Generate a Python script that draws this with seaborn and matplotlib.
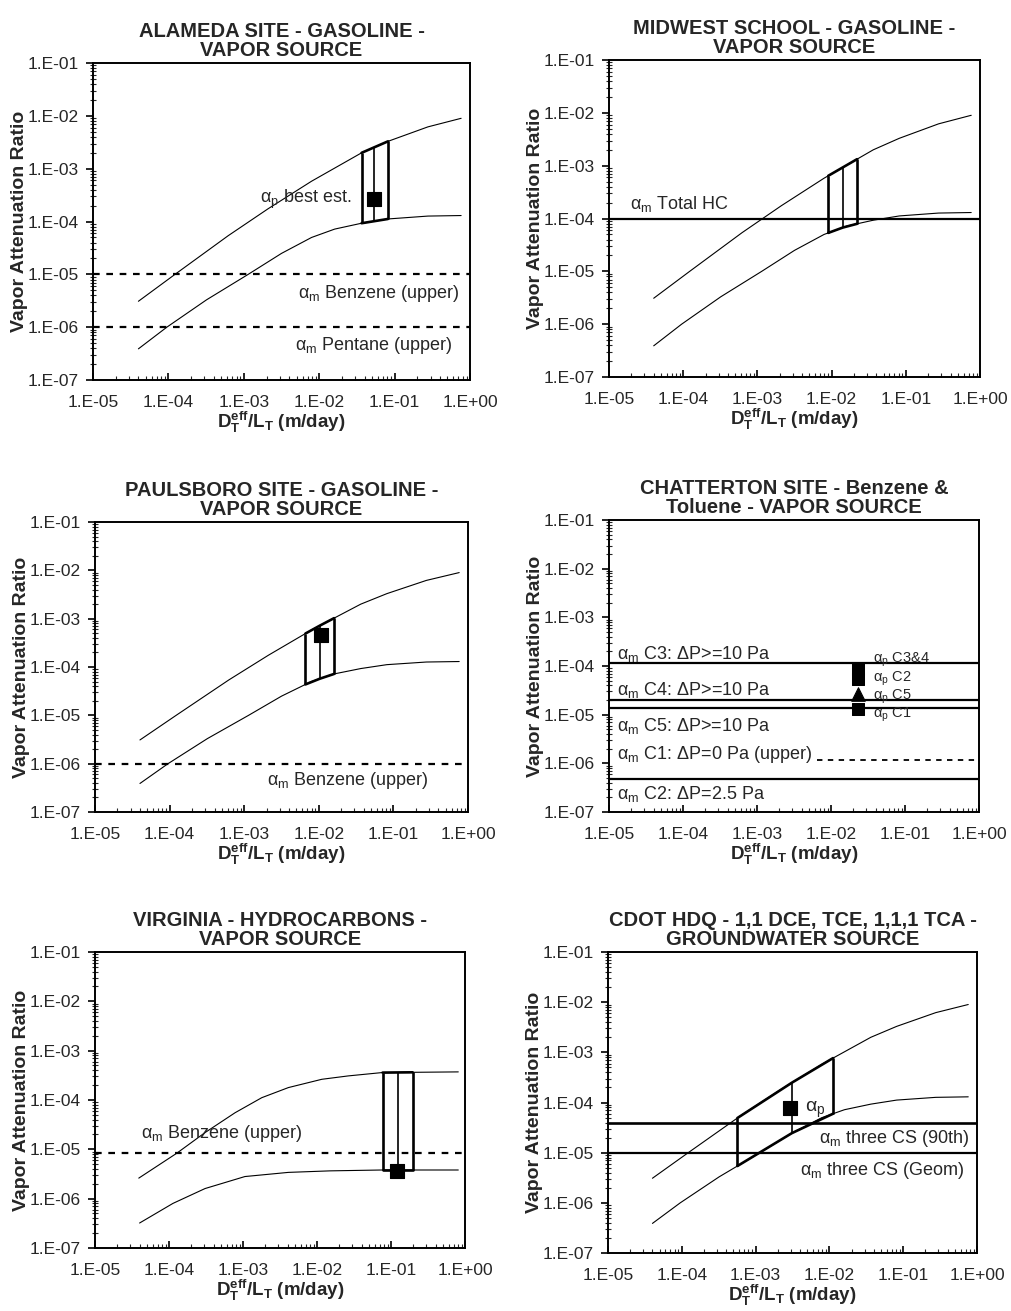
import numpy as np
import matplotlib
matplotlib.use('Agg')
import matplotlib.pyplot as plt
from matplotlib.ticker import NullFormatter, LogLocator
import seaborn as sns

# model curves (shared by most panels)
upper_x = [4e-5, 1.22e-4, 6.2e-4, 2.1e-3, 7.9e-3, 3.64e-2, 8.15e-2, 2.76e-1, 7.6e-1]
upper_y = [3.1e-6, 1.0e-5, 5.4e-5, 1.75e-4, 5.8e-4, 2.0e-3, 3.3e-3, 6.2e-3, 9.0e-3]
lower_x = [4e-5, 9.5e-5, 3.2e-4, 1.14e-3, 3.16e-3, 7.9e-3, 1.6e-2, 3.64e-2, 8.15e-2, 2.76e-1, 7.6e-1]
lower_y = [3.9e-7, 1.0e-6, 3.3e-6, 1.0e-5, 2.5e-5, 5.0e-5, 7.2e-5, 9.3e-5, 1.12e-4, 1.27e-4, 1.3e-4]

# Virginia panel has its own curves
virginia_upper_x = [3.9e-5, 1.27e-4, 3.07e-4, 7.8e-4, 1.79e-3, 4.1e-3, 1.16e-2, 2.65e-2, 7.5e-2, 8.1e-1]
virginia_upper_y = [2.6e-6, 8.3e-6, 2.18e-5, 5.5e-5, 1.11e-4, 1.78e-4, 2.62e-4, 3.07e-4, 3.58e-4, 3.7e-4]
virginia_lower_x = [4e-5, 1.13e-4, 3.07e-4, 1.06e-3, 4.1e-3, 1.5e-2, 7.5e-2, 8.1e-1]
virginia_lower_y = [3.2e-7, 8.0e-7, 1.6e-6, 2.8e-6, 3.4e-6, 3.65e-6, 3.8e-6, 3.8e-6]

# predicted ranges: x positions of the box edges (and inner line)
alameda_box_x = [0.0364, 0.053, 0.0815]
alameda_point = (0.053, 2.7e-4)
midwest_box_x = [9e-3, 0.0141, 0.022]
paulsboro_box_x = [6.6e-3, 1.03e-2, 1.6e-2]
paulsboro_point = (1.07e-2, 4.5e-4)
virginia_box_x = [0.0768, 0.125, 0.196]
virginia_point = (0.12, 3.6e-6)
cdot_box_x = [5.66e-4, 3.1e-3, 0.0112]
cdot_point = (2.9e-3, 7.7e-5)

# measured attenuation lines
alameda_lines = [1e-5, 1e-6]
midwest_line = 1e-4
paulsboro_line = 1e-6
virginia_line = 8.3e-6
cdot_lines = [4.0e-5, 1e-5]

# Chatterton measured / predicted values
chat_lines = {'C3': 1.13e-4, 'C4': 2.05e-5, 'C5': 1.4e-5, 'C1': 1.16e-6, 'C2': 4.7e-7}
chat_x = 0.0233
chat_sq_y = [8.9e-5, 5.5e-5, 1.29e-5]
chat_tri_y = [2.7e-5]
chat_labels = ['C3&4', 'C2', 'C5', 'C1']
chat_label_y = [1.35e-4, 5.4e-5, 2.35e-5, 9.8e-6]

x_ticks = [1e-5, 1e-4, 1e-3, 1e-2, 1e-1, 1e0]
x_tick_labels = ['1.E-05', '1.E-04', '1.E-03', '1.E-02', '1.E-01', '1.E+00']
y_ticks = [1e-7, 1e-6, 1e-5, 1e-4, 1e-3, 1e-2, 1e-1]
y_tick_labels = ['1.E-07', '1.E-06', '1.E-05', '1.E-04', '1.E-03', '1.E-02', '1.E-01']

sns.set_style('white')
plt.rcParams['font.family'] = ['Liberation Sans', 'DejaVu Sans']
plt.rcParams['mathtext.fontset'] = 'custom'
plt.rcParams['mathtext.rm'] = 'Liberation Sans'
plt.rcParams['mathtext.it'] = 'Liberation Sans:italic'
plt.rcParams['mathtext.bf'] = 'Liberation Sans:bold'

fig = plt.figure(figsize=(10.11, 13.11), dpi=100)

positions = [
    [0.092, 0.7101, 0.373, 0.2418],
    [0.6024, 0.7124, 0.367, 0.2418],
    [0.094, 0.3806, 0.369, 0.2212],
    [0.6024, 0.3806, 0.366, 0.2227],
    [0.094, 0.0481, 0.366, 0.2258],
    [0.6014, 0.0442, 0.365, 0.2296],
]
titles = [
    'ALAMEDA SITE - GASOLINE -\nVAPOR SOURCE',
    'MIDWEST SCHOOL - GASOLINE -\nVAPOR SOURCE',
    'PAULSBORO SITE - GASOLINE -\nVAPOR SOURCE',
    'CHATTERTON SITE - Benzene &\nToluene - VAPOR SOURCE',
    'VIRGINIA - HYDROCARBONS -\nVAPOR SOURCE',
    'CDOT HDQ - 1,1 DCE, TCE, 1,1,1 TCA -\nGROUNDWATER SOURCE',
]

AM = r'α$_\mathrm{m}$'
AP = r'α$_\mathrm{p}$'
TXT = 13


def setup(ax, title):
    ax.set_xscale('log')
    ax.set_yscale('log')
    ax.set_xlim(1e-5, 1e0)
    ax.set_ylim(1e-7, 1e-1)
    ax.set_xticks(x_ticks, labels=x_tick_labels)
    ax.set_yticks(y_ticks, labels=y_tick_labels)
    ax.xaxis.set_minor_locator(LogLocator(base=10, subs=np.arange(2, 10), numticks=20))
    ax.yaxis.set_minor_locator(LogLocator(base=10, subs=np.arange(2, 10), numticks=20))
    ax.xaxis.set_minor_formatter(NullFormatter())
    ax.yaxis.set_minor_formatter(NullFormatter())
    ax.tick_params(axis='both', which='major', labelsize=12.5, color='black', width=1.2)
    ax.tick_params(axis='x', which='both', direction='in', bottom=True)
    ax.tick_params(axis='x', which='major', length=5, pad=11)
    ax.tick_params(axis='x', which='minor', length=3, width=0.8)
    ax.tick_params(axis='y', which='major', direction='out', length=5, left=True, pad=5)
    ax.tick_params(axis='y', which='minor', direction='inout', length=4, width=0.8, left=True)
    for s in ax.spines.values():
        s.set_color('black')
        s.set_linewidth(1.4)
    ax.set_title(title, fontsize=14.5, fontweight='bold', pad=5, linespacing=1.0)
    ax.set_ylabel('Vapor Attenuation Ratio', fontsize=14, fontweight='bold', labelpad=0)
    ax.set_xlabel(r'D$_\mathbf{T}^\mathbf{eff}$/L$_\mathbf{T}$ (m/day)', fontsize=13.5,
                  fontweight='bold', labelpad=0)


def curves(ax, ux, uy, lx, ly):
    sns.lineplot(x=ux, y=uy, ax=ax, color='black', linewidth=0.8, sort=False)
    sns.lineplot(x=lx, y=ly, ax=ax, color='black', linewidth=0.8, sort=False)


def on_curve(xs, cx, cy):
    # position of the box edge on a model curve (log-log)
    return 10 ** np.interp(np.log10(xs), np.log10(cx), np.log10(cy))


def box(ax, bx, ux, uy, lx, ly):
    top = on_curve(bx, ux, uy)
    bot = on_curve(bx, lx, ly)
    ax.plot(bx, top, color='black', linewidth=1.9)
    ax.plot(bx, bot, color='black', linewidth=1.9)
    ax.vlines([bx[0], bx[-1]], [bot[0], bot[-1]], [top[0], top[-1]], color='black', linewidth=1.9)
    ax.vlines(bx[1:-1], bot[1:-1], top[1:-1], color='black', linewidth=1.2)


def square(ax, pt, s=100, marker='s'):
    sns.scatterplot(x=[pt[0]], y=[pt[1]], ax=ax, color='black', marker=marker, s=s,
                    edgecolor='black', zorder=5)


axes = [fig.add_axes(p) for p in positions]
for ax, t in zip(axes, titles):
    setup(ax, t)

# Alameda
ax = axes[0]
curves(ax, upper_x, upper_y, lower_x, lower_y)
box(ax, alameda_box_x, upper_x, upper_y, lower_x, lower_y)
square(ax, alameda_point)
for v in alameda_lines:
    ax.axhline(v, color='black', linewidth=1.6, dashes=(3, 3))
ax.text(0.027, 2.6e-4, AP + ' best est.', fontsize=TXT, ha='right', va='center')
ax.text(0.72, 4.4e-6, AM + ' Benzene (upper)', fontsize=TXT, ha='right', va='center')
ax.text(0.58, 4.6e-7, AM + ' Pentane (upper)', fontsize=TXT, ha='right', va='center')

# Midwest
ax = axes[1]
curves(ax, upper_x, upper_y, lower_x, lower_y)
box(ax, midwest_box_x, upper_x, upper_y, lower_x, lower_y)
ax.axhline(midwest_line, color='black', linewidth=1.6)
ax.text(1.9e-5, 1.9e-4, AM + ' Total HC', fontsize=TXT, ha='left', va='center')

# Paulsboro
ax = axes[2]
curves(ax, upper_x, upper_y, lower_x, lower_y)
box(ax, paulsboro_box_x, upper_x, upper_y, lower_x, lower_y)
square(ax, paulsboro_point)
ax.axhline(paulsboro_line, color='black', linewidth=1.6, dashes=(3, 3))
ax.text(2.0e-3, 4.5e-7, AM + ' Benzene (upper)', fontsize=TXT, ha='left', va='center')

# Chatterton
ax = axes[3]
for k in ['C3', 'C4', 'C5', 'C2']:
    ax.axhline(chat_lines[k], color='black', linewidth=1.6)
ax.hlines(chat_lines['C1'], 6.5e-3, 1e0, color='black', linewidth=1.3, linestyles=(0, (3, 3)))
sns.scatterplot(x=[chat_x] * len(chat_sq_y), y=chat_sq_y, ax=ax, color='black', marker='s',
                s=85, edgecolor='black', zorder=5)
sns.scatterplot(x=[chat_x] * len(chat_tri_y), y=chat_tri_y, ax=ax, color='black', marker='^',
                s=95, edgecolor='black', zorder=5)
ax.text(1.3e-5, 1.8e-4, AM + ' C3: ΔP>=10 Pa', fontsize=TXT, ha='left', va='center')
ax.text(1.3e-5, 3.2e-5, AM + ' C4: ΔP>=10 Pa', fontsize=TXT, ha='left', va='center')
ax.text(1.3e-5, 5.8e-6, AM + ' C5: ΔP>=10 Pa', fontsize=TXT, ha='left', va='center')
ax.text(1.3e-5, 1.54e-6, AM + ' C1: ΔP=0 Pa (upper)', fontsize=TXT, ha='left', va='center')
ax.text(1.3e-5, 2.4e-7, AM + ' C2: ΔP=2.5 Pa', fontsize=TXT, ha='left', va='center')
for lab, yv in zip(chat_labels, chat_label_y):
    ax.text(0.037, yv, AP + ' ' + lab, fontsize=10.5, ha='left', va='center')

# Virginia
ax = axes[4]
curves(ax, virginia_upper_x, virginia_upper_y, virginia_lower_x, virginia_lower_y)
box(ax, virginia_box_x, virginia_upper_x, virginia_upper_y, virginia_lower_x, virginia_lower_y)
square(ax, virginia_point)
ax.axhline(virginia_line, color='black', linewidth=1.6, dashes=(3, 3))
ax.text(4.2e-5, 2.1e-5, AM + ' Benzene (upper)', fontsize=TXT, ha='left', va='center')

# CDOT
ax = axes[5]
curves(ax, upper_x, upper_y, lower_x, lower_y)
box(ax, cdot_box_x, upper_x, upper_y, lower_x, lower_y)
square(ax, cdot_point)
ax.axhline(cdot_lines[0], color='black', linewidth=1.9)
ax.axhline(cdot_lines[1], color='black', linewidth=1.6)
ax.text(4.6e-3, 7.3e-5, AP, fontsize=14, ha='left', va='center')
ax.text(0.8, 1.94e-5, AM + ' three CS (90th)', fontsize=TXT, ha='right', va='center')
ax.text(0.68, 4.5e-6, AM + ' three CS (Geom)', fontsize=TXT, ha='right', va='center')

fig.savefig('out.png', dpi=100)
